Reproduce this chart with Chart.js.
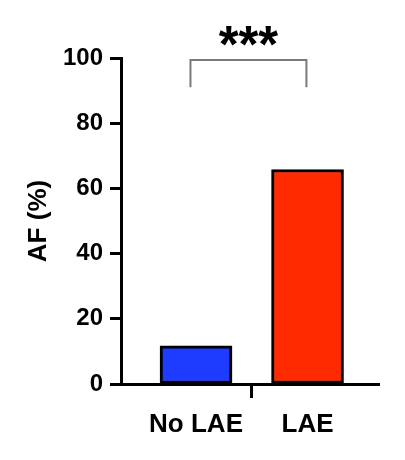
<!DOCTYPE html>
<html>
<head>
<meta charset="utf-8">
<script src="https://cdn.jsdelivr.net/npm/chart.js@4.4.1/dist/chart.umd.min.js"></script>
<style>
  html, body { margin: 0; padding: 0; background: #fff; }
  #wrap { width: 405px; height: 460px; }
</style>
</head>
<body>
<div id="wrap"><canvas id="afChart"></canvas></div>
<script>
const categories = ['No LAE', 'LAE'];
const afValues = [11.7, 65.8];
const barColors = ['#1e3cff', '#ff2a00'];
const yTicks = [0, 20, 40, 60, 80, 100];
const sigLabel = '***';
const sigBracket = [0.95, 1.99];

const font = 'Liberation Sans, Arial, sans-serif';

const bracketPlugin = {
    id: 'bracket',
    afterDraw(chart) {
        const { ctx, scales: { x, y } } = chart;
        const x1 = x.getPixelForValue(sigBracket[0]);
        const x2 = x.getPixelForValue(sigBracket[1]);
        const top = y.getPixelForValue(99.4);
        const bottom = y.getPixelForValue(91);
        ctx.save();
        ctx.strokeStyle = '#7a7a7a';
        ctx.lineWidth = 2;
        ctx.beginPath();
        ctx.moveTo(x1, bottom);
        ctx.lineTo(x1, top);
        ctx.lineTo(x2, top);
        ctx.lineTo(x2, bottom);
        ctx.stroke();
        ctx.fillStyle = '#000';
        ctx.font = 'bold 51px ' + font;
        ctx.textAlign = 'center';
        ctx.textBaseline = 'middle';
        ctx.fillText(sigLabel, (x1 + x2) / 2, y.getPixelForValue(103));
        ctx.restore();
    }
};

new Chart(document.getElementById('afChart'), {
    type: 'bar',
    data: {
        datasets: [{
            data: categories.map((c, i) => ({ x: i + 1, y: afValues[i] })),
            backgroundColor: barColors,
            borderColor: '#000',
            borderWidth: 3,
            borderSkipped: false,
            barThickness: 72
        }]
    },
    options: {
        responsive: true,
        maintainAspectRatio: false,
        animation: false,
        layout: { padding: { top: 58, right: 26, bottom: 20, left: 0 } },
        plugins: { legend: { display: false }, tooltip: { enabled: false } },
        scales: {
            x: {
                type: 'linear',
                offset: false,
                min: 0.327,
                max: 2.641,
                afterBuildTicks: s => { s.ticks = [1, 1.5, 2].map(v => ({ value: v })); },
                afterFit: s => { s.height = 56; },
                border: { color: '#000', width: 3 },
                grid: {
                    offset: false,
                    drawOnChartArea: false,
                    tickLength: 14,
                    tickWidth: 3,
                    tickColor: c => (c.tick && c.tick.value === 1.5 ? '#000' : 'rgba(0,0,0,0)')
                },
                ticks: {
                    autoSkip: false,
                    maxRotation: 0,
                    padding: 11,
                    color: '#000',
                    font: { family: font, size: 26, weight: 'bold' },
                    callback: v => categories[v - 1] || ''
                }
            },
            y: {
                min: 0,
                max: 100,
                afterBuildTicks: s => { s.ticks = yTicks.map(v => ({ value: v })); },
                afterFit: s => { s.width = 121; },
                border: { color: '#000', width: 3 },
                grid: {
                    drawOnChartArea: false,
                    tickLength: 11,
                    tickWidth: 3,
                    tickColor: '#000'
                },
                ticks: {
                    padding: 7,
                    color: '#000',
                    font: { family: font, size: 24, weight: 'bold' }
                },
                title: {
                    display: true,
                    text: 'AF (%)',
                    color: '#000',
                    padding: { top: 23, bottom: 0 },
                    font: { family: font, size: 26, weight: 'bold' }
                }
            }
        }
    },
    plugins: [bracketPlugin]
});
</script>
</body>
</html>
